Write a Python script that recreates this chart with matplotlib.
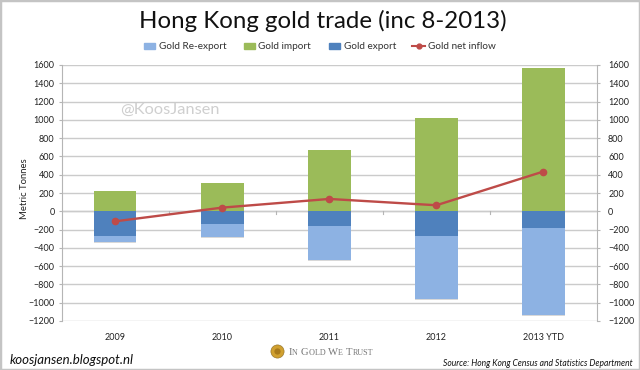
import numpy as np
import matplotlib
matplotlib.use("Agg")
import matplotlib.pyplot as plt
from matplotlib.patches import Rectangle
import matplotlib.patheffects as pe

years = ["2009", "2010", "2011", "2012", "2013 YTD"]
gold_import = [222, 310, 665, 1018, 1570]
gold_export = [-275, -142, -160, -274, -179]
gold_reexport = [-65, -135, -373, -682, -960]
net_inflow = [-110, 40, 135, 66, 435]
y_ticks = list(range(-1200, 1601, 200))

W, H = 640, 370
plt.rcParams["font.family"] = ["Lato", "DejaVu Sans"]

fig = plt.figure(figsize=(W / 100, H / 100), dpi=100)
ax = fig.add_axes([61.5 / W, 1 - 321 / H, (597 - 61.5) / W, (321 - 65) / H])

x = np.arange(len(years))
ax.set_xlim(-0.5, 4.5)
ax.set_ylim(-1200, 1600)
ax.set_yticks(y_ticks)
ax.grid(axis="y", color="#cbcbcb", linewidth=1)
ax.set_axisbelow(True)

width = 0.4
shadow = [pe.SimplePatchShadow(offset=(0, -0.7), shadow_rgbFace="#aaaaaa", alpha=0.45), pe.Normal()]
bars_i = ax.bar(x, gold_import, width, color="#9bbb59", label="Gold import", zorder=2)
bars_r = ax.bar(x, gold_reexport, width, bottom=gold_export, color="#8db2e3",
                label="Gold Re-export", zorder=2)
bars_e = ax.bar(x, gold_export, width, color="#4f81bd", label="Gold export", zorder=2)
for b in list(bars_r):
    b.set_path_effects(shadow)
ax.plot(x, net_inflow, color="#be4b48", linewidth=1.7, marker="o", markersize=4.5,
        label="Gold net inflow", zorder=3)

# zero line with the small category ticks, excel style
ax.axhline(0, color="#cbcbcb", linewidth=1, zorder=1)
for b in np.arange(0.5, 4):
    ax.plot([b, b], [-30, 0], color="#b5b5b5", linewidth=0.8, zorder=1)

ax.set_xticks(x)
ax.set_xticklabels(years)
ax.tick_params(axis="x", length=0, pad=9, labelsize=6.5, labelcolor="#222222")
ax.tick_params(axis="y", length=2, width=0.8, color="#b5b5b5", pad=3,
               labelsize=6.5, labelcolor="#222222")
for s in ["top", "right", "bottom"]:
    ax.spines[s].set_visible(False)
ax.spines["left"].set_color("#b5b5b5")
ax.set_ylabel("Metric Tonnes", fontsize=6.8, color="#222222")
ax.yaxis.set_label_coords(-0.061, 0.516)

ax2 = ax.twinx()
ax2.set_ylim(-1200, 1600)
ax2.set_yticks(y_ticks)
ax2.tick_params(axis="y", length=2, width=0.8, color="#b5b5b5", pad=6,
                labelsize=6.5, labelcolor="#222222")
for s in ["top", "left", "bottom"]:
    ax2.spines[s].set_visible(False)
ax2.spines["right"].set_color("#b5b5b5")

# legend drawn in figure pixels so the spacing follows the picture
def px(xp, yp):
    return xp / W, 1 - yp / H

handles = [("Gold Re-export", 144, "#8db2e3"), ("Gold import", 243.5, "#9bbb59"),
           ("Gold export", 329, "#4f81bd")]
for name, xp, col in handles:
    fig.add_artist(Rectangle(px(xp, 49), 11 / W, 6 / H, color=col, transform=fig.transFigure))
    fig.text(*px(xp + 15, 46.5), name, fontsize=7.2, color="#333333", va="center")
fig.add_artist(plt.Line2D([412 / W, 425 / W], [1 - 46 / H] * 2, color="#be4b48", linewidth=1.5))
fig.add_artist(plt.Line2D([418.5 / W], [1 - 46 / H], color="#be4b48", marker="o", markersize=3.5))
fig.text(*px(427.5, 46.5), "Gold net inflow", fontsize=7.2, color="#333333", va="center")

fig.text(*px(323, 21), "Hong Kong gold trade (inc 8-2013)", fontsize=17.3, color="#111111",
         ha="center", va="center")
fig.text(*px(120, 110), "@KoosJansen", fontsize=11.8, color="#cfcfcf", va="center")
fig.text(*px(10, 360), "koosjansen.blogspot.nl", fontsize=9.5, style="italic",
         color="#111111", va="center")
fig.text(*px(633, 363), "Source: Hong Kong Census and Statistics Department", fontsize=6.15,
         style="italic", color="#111111", va="center", ha="right")

# logo coin and small caps wordmark
fig.add_artist(plt.Line2D([277 / W], [1 - 351 / H], marker="o", markersize=9.5,
                          color="#d0a030", markeredgecolor="#8a6a20", markeredgewidth=0.4))
fig.add_artist(plt.Line2D([277 / W], [1 - 351 / H], marker="o", markersize=4.5,
                          color="#a87a1c", markeredgewidth=0))
prev = None
for i, part in enumerate(["I", "N ", "G", "OLD ", "W", "E ", "T", "RUST"]):
    size = 7.7 if i % 2 == 0 else 5.9
    if prev is None:
        prev = fig.text(*px(288.5, 355), part, fontsize=size, family="Liberation Serif",
                        color="#777777", va="baseline")
    else:
        prev = plt.annotate(part, xy=(1, 0), xycoords=prev, xytext=(0.3, 0),
                            textcoords="offset points", fontsize=size,
                            family="Liberation Serif", color="#777777", va="bottom",
                            annotation_clip=False)

# outer frame
fig.add_artist(Rectangle((0, 0), 1, 1, fill=False, edgecolor="#c4c4c4", linewidth=2.5,
                         transform=fig.transFigure))

fig.savefig("out.png", dpi=100)
